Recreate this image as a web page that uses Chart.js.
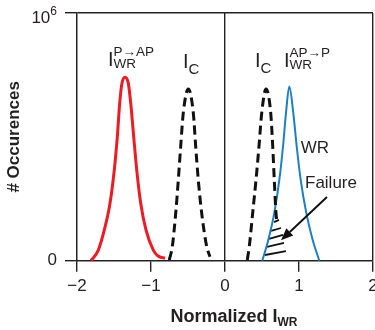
<!DOCTYPE html>
<html><head><meta charset="utf-8">
<script src="https://cdn.jsdelivr.net/npm/chart.js@4/dist/chart.umd.min.js"></script>
<style>html,body{margin:0;padding:0;background:#fff}</style>
</head><body>
<canvas id="c" width="375" height="330"></canvas>
<script>
// ---- data ----
const xTickValues = [-2, -1, 0, 1, 2];
const yTickValues = [0, 1];          // 0 and 10^6 (normalised)

const redX  = [-1.811,-1.712,-1.631,-1.554,-1.496,-1.455,-1.423,-1.392,-1.351,-1.307,-1.274,-1.234,-1.193,-1.139,-1.068,-0.969,-0.905,-0.811];
const redY  = [0.000, 0.043, 0.124, 0.232, 0.367, 0.501, 0.636, 0.717, 0.741, 0.717, 0.636, 0.501, 0.367, 0.232, 0.124, 0.043, 0.019, 0.010];

const icLeftX = [-0.753,-0.712,-0.666,-0.631,-0.599,-0.564,-0.496,-0.428,-0.396,-0.361,-0.315,-0.247,-0.203];
const icLeftY = [0.003, 0.057, 0.192, 0.326, 0.461, 0.596, 0.693, 0.596, 0.461, 0.326, 0.192, 0.057, 0.016];

const icRightX = [0.301, 0.328, 0.374, 0.419, 0.459, 0.496, 0.554, 0.618, 0.645, 0.666, 0.689, 0.707];
const icRightY = [0.003, 0.057, 0.192, 0.326, 0.461, 0.596, 0.693, 0.596, 0.461, 0.326, 0.192, 0.152];

const blueX = [0.504, 0.585, 0.666, 0.734, 0.784, 0.824, 0.869, 0.923, 0.969, 1.023, 1.099, 1.185, 1.274];
const blueY = [0.000, 0.084, 0.192, 0.326, 0.461, 0.596, 0.703, 0.596, 0.461, 0.326, 0.192, 0.084, 0.000];

// hatch segments of the failure region: [x1,y1,x2,y2]
const hatchSegs = [
  [0.662,0.156,0.730,0.165],
  [0.622,0.120,0.757,0.132],
  [0.595,0.088,0.784,0.104],
  [0.568,0.056,0.797,0.072],
  [0.541,0.023,0.824,0.039]
];

// annotation arrow (from, to) in data units
const arrowFrom = [1.378, 0.257];
const arrowTo   = [0.757, 0.083];

// text annotations: main letter, subscript, superscript, anchor (data units)
const peakLabels = [
  {main:'I', sub:'WR', sup:'P\u2192AP', x:-1.581, y:0.787},
  {main:'I', sub:'C',  sup:'',          x:-0.568, y:0.779},
  {main:'I', sub:'C',  sup:'',          x: 0.405, y:0.780},
  {main:'I', sub:'WR', sup:'AP\u2192P', x: 0.797, y:0.783}
];
const plainLabels = [
  {text:'WR',      x:1.023, y:0.435},
  {text:'Failure', x:1.081, y:0.294}
];

const FONT = "'Liberation Sans', Arial, Helvetica, sans-serif";
const TXT = '#231f20';

function pts(xs, ys){ return xs.map((x,i)=>({x:x, y:ys[i]})); }
function hatchPts(){
  const out=[];
  hatchSegs.forEach(s=>{ out.push({x:s[0],y:s[1]}); out.push({x:s[2],y:s[3]}); out.push({x:(s[2]+0.001),y:null}); });
  return out;
}

const annotPlugin = {
  id:'annot',
  afterDatasetsDraw(chart){
    const ctx = chart.ctx, xs = chart.scales.x, ys = chart.scales.y;
    ctx.save();
    ctx.fillStyle = TXT;
    ctx.textBaseline = 'alphabetic';
    ctx.textAlign = 'left';
    // peak labels
    peakLabels.forEach(l=>{
      const px = xs.getPixelForValue(l.x), py = ys.getPixelForValue(l.y);
      ctx.font = '20px ' + FONT;
      ctx.fillText(l.main, px, py);
      const w = ctx.measureText(l.main).width;
      if (l.sub === 'C') {
        ctx.font = '15px ' + FONT;
        ctx.fillText(l.sub, px + w, py + 6);
      } else {
        ctx.font = '13.5px ' + FONT;
        ctx.fillText(l.sub, px + w, py + 2);
      }
      if (l.sup) {
        ctx.font = '13.5px ' + FONT;
        ctx.fillText(l.sup, px + w, py - 9.5);
      }
    });
    // plain labels
    ctx.font = '17px ' + FONT;
    plainLabels.forEach(l=>{
      ctx.fillText(l.text, xs.getPixelForValue(l.x), ys.getPixelForValue(l.y));
    });
    // arrow
    const x1 = xs.getPixelForValue(arrowFrom[0]), y1 = ys.getPixelForValue(arrowFrom[1]);
    const x2 = xs.getPixelForValue(arrowTo[0]),   y2 = ys.getPixelForValue(arrowTo[1]);
    const ang = Math.atan2(y2-y1, x2-x1), hl = 12, hw = 5;
    const bx = x2 - hl*Math.cos(ang), by = y2 - hl*Math.sin(ang);
    ctx.strokeStyle = '#111'; ctx.lineWidth = 2;
    ctx.beginPath(); ctx.moveTo(x1,y1); ctx.lineTo(bx,by); ctx.stroke();
    ctx.fillStyle = '#111';
    ctx.beginPath();
    ctx.moveTo(x2,y2);
    ctx.lineTo(bx + hw*Math.sin(ang), by - hw*Math.cos(ang));
    ctx.lineTo(bx - hw*Math.sin(ang), by + hw*Math.cos(ang));
    ctx.closePath(); ctx.fill();
    // y top tick label 10^6
    const ty = ys.getPixelForValue(1);
    const rightEdge = ys.right - 12 - 8;
    ctx.fillStyle = TXT;
    ctx.font = '12px ' + FONT;
    const w6 = ctx.measureText('6').width;
    ctx.fillText('6', rightEdge - w6, ty + 2);
    ctx.font = '17px ' + FONT;
    const w10 = ctx.measureText('10').width;
    ctx.fillText('10', rightEdge - w6 - w10, ty + 10);
    // x axis title with subscript
    ctx.font = 'bold 18px ' + FONT;
    const t1 = 'Normalized I';
    const wa = ctx.measureText(t1).width;
    ctx.font = 'bold 12px ' + FONT;
    const wb = ctx.measureText('WR').width;
    const cx = 234, base = 322;
    const sx = cx - (wa+wb)/2;
    ctx.font = 'bold 18px ' + FONT;
    ctx.fillText(t1, sx, base);
    ctx.font = 'bold 12px ' + FONT;
    ctx.fillText('WR', sx + wa, base + 4);
    ctx.restore();
  }
};

const lineBase = {pointRadius:0, fill:false, cubicInterpolationMode:'monotone', clip:10};

new Chart(document.getElementById('c'), {
  type:'line',
  data:{datasets:[
    Object.assign({label:'IWR P-AP', data:pts(redX,redY), borderColor:'#ec1c24', borderWidth:3}, lineBase),
    Object.assign({label:'IC left', data:pts(icLeftX,icLeftY), borderColor:'#111', borderWidth:3, borderDash:[9,5]}, lineBase),
    Object.assign({label:'IC right', data:pts(icRightX,icRightY), borderColor:'#111', borderWidth:3, borderDash:[9,5]}, lineBase),
    Object.assign({label:'IWR AP-P', data:pts(blueX,blueY), borderColor:'#1c7fc4', borderWidth:2}, lineBase),
    {label:'Failure', data:hatchPts(), borderColor:'#111', borderWidth:1.8, pointRadius:0, tension:0, spanGaps:false, clip:10}
  ]},
  options:{
    responsive:false, animation:false, devicePixelRatio:1,
    layout:{padding:{top:13, right:2, left:0, bottom:0}},
    plugins:{legend:{display:false}, tooltip:{enabled:false}},
    scales:{
      x:{
        type:'linear', min:-2, max:2,
        afterBuildTicks: s => { s.ticks = xTickValues.map(v=>({value:v})); },
        afterFit: s => { s.height = 69.3; s.paddingLeft = 0; s.paddingRight = 0; },
        ticks:{ font:{size:17, family:FONT}, color:TXT, padding:4, maxRotation:0,
          callback: v => v < 0 ? '\u2212' + Math.abs(v) : String(v) },
        grid:{ drawOnChartArea:true, tickLength:11, lineWidth:1.4, tickColor:'#222',
          color: c => (c.tick && (c.tick.value === 0 || c.tick.value === 2)) ? '#222' : 'rgba(0,0,0,0)' },
        border:{display:true, color:'#222', width:1.5}
      },
      y:{
        type:'linear', min:0, max:1,
        afterBuildTicks: s => { s.ticks = yTickValues.map(v=>({value:v})); },
        afterFit: s => { s.width = 77; s.paddingTop = 0; s.paddingBottom = 0; },
        ticks:{ font:{size:17, family:FONT}, color:TXT, padding:8,
          callback: v => v === 0 ? '0' : '' },
        grid:{ drawOnChartArea:true, tickLength:12, lineWidth:1.4, tickColor:'#222',
          color: c => (c.tick && c.tick.value === 1) ? '#222' : 'rgba(0,0,0,0)' },
        border:{display:true, color:'#222', width:1.5},
        title:{ display:true, text:'# Occurences', font:{size:17, weight:'bold', family:FONT}, color:TXT, padding:{top:4,bottom:0} }
      }
    }
  },
  plugins:[annotPlugin]
});
</script>
</body></html>
